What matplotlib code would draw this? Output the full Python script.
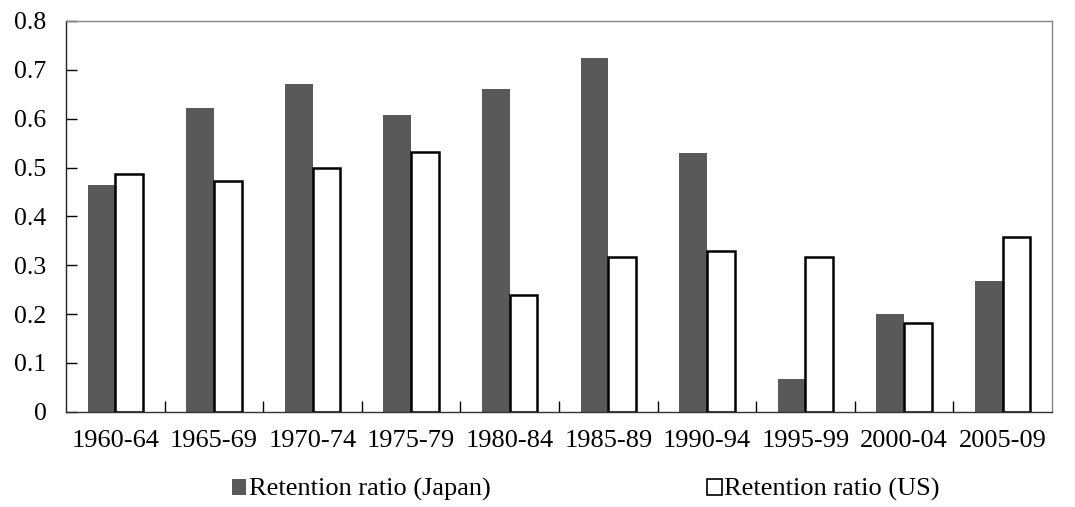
import matplotlib
matplotlib.use("Agg")
import matplotlib.pyplot as plt
import numpy as np

# Datos
periodos = ['1960-64', '1965-69', '1970-74', '1975-79', '1980-84',
            '1985-89', '1990-94', '1995-99', '2000-04', '2005-09']
japon = [0.464, 0.621, 0.671, 0.608, 0.660, 0.724, 0.529, 0.066, 0.201, 0.267]
eeuu = [0.487, 0.472, 0.499, 0.532, 0.239, 0.317, 0.328, 0.317, 0.182, 0.357]
yticks = [0, 0.1, 0.2, 0.3, 0.4, 0.5, 0.6, 0.7, 0.8]

plt.rcParams['font.family'] = ['Liberation Serif', 'DejaVu Serif']

fig = plt.figure(figsize=(10.75, 5.07), dpi=100)
ax = fig.add_axes([0.0614, 0.188, 0.9172, 0.7706])

x = np.arange(len(periodos))
ancho = 0.28
ax.bar(x - ancho / 2, japon, ancho, color='#595959', edgecolor='none',
       label='Retention ratio (Japan)')
ax.bar(x + ancho / 2, eeuu, ancho, color='white', edgecolor='black',
       linewidth=1.8, label='Retention ratio (US)')

ax.set_xlim(-0.5, len(periodos) - 0.5)
ax.set_ylim(0, 0.8)
ax.set_yticks(yticks)
ax.set_yticklabels(['0' if v == 0 else f'{v:.1f}' for v in yticks])
ax.set_xticks(x)
ax.set_xticklabels(periodos)
ax.set_xticks(x[:-1] + 0.5, minor=True)
ax.tick_params(axis='x', which='major', length=0, labelsize=19, pad=13)
ax.tick_params(axis='x', which='minor', direction='in', length=8, width=1)
ax.tick_params(axis='y', direction='in', length=8, width=1, labelsize=18.5, pad=14)

ax.spines['left'].set_color('#222222')
ax.spines['bottom'].set_color('#333333')
ax.spines['top'].set_color('#888888')
ax.spines['right'].set_color('#888888')
for s in ax.spines.values():
    s.set_linewidth(1)

leg = fig.legend(loc='center', bbox_to_anchor=(0.545, 0.034), ncol=2, frameon=False,
                 fontsize=19, columnspacing=8.2, handlelength=0.55, handleheight=0.55,
                 handletextpad=0.1, borderpad=0)
leg.legend_handles[1].set_linewidth(1.2)

fig.savefig('out.png', dpi=100)
